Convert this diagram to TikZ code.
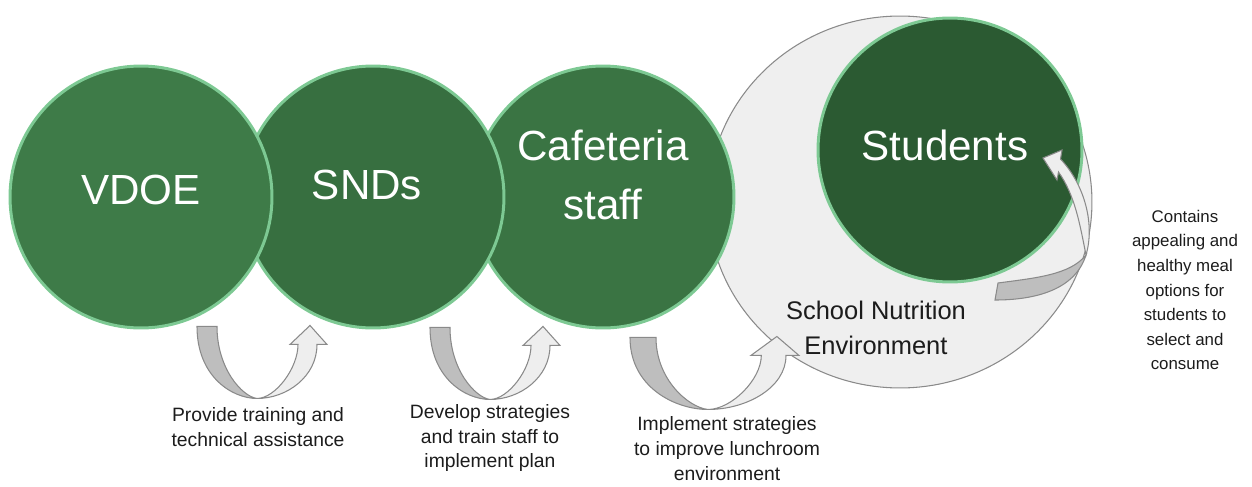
\documentclass[tikz,border=0pt]{standalone}
\usepackage{fontspec}
\setmainfont{Liberation Sans}
\usetikzlibrary{calc,shapes.geometric}
\definecolor{leaf}{HTML}{3E7B48}
\definecolor{leaf2}{HTML}{376F40}
\definecolor{leaf3}{HTML}{3A7443}
\definecolor{pine}{HTML}{2B5A32}
\definecolor{rim}{HTML}{7DC993}
\definecolor{mist}{HTML}{EFEFEF}
\definecolor{edge}{HTML}{8A8A8A}
\definecolor{band}{HTML}{BEBEBE}
\definecolor{band2}{HTML}{EEEEEE}
\definecolor{ink}{HTML}{1C1C1C}

% u-shaped hand-over arrow, origin at the bottom of the bend
\tikzset{
  uturn/.pic={
    \path[draw=edge, fill=band, line width=0.6pt]
      (-60,-72) -- (-40,-72) .. controls (-40,-30) and (-15,-2) .. (0,0)
      .. controls (-25,0) and (-60,-22) .. (-60,-72) -- cycle;
    \path[draw=edge, fill=band2, line width=0.6pt]
      (0,0) .. controls (18,0) and (41,-30) .. (41,-54) -- (33,-54) -- (53,-73)
      -- (70,-54) -- (60,-54) .. controls (60,-22) and (30,0) .. (0,0) -- cycle;
  }
}

\begin{document}
\begin{tikzpicture}[x=0.02cm, y=-0.02cm,
  actor/.style={circle, draw=rim, line width=1.7pt, minimum size=5.24cm, inner sep=0pt},
  heading/.style={text=white, font=\fontsize{24}{34}\selectfont, align=center},
  note/.style={text=ink, font=\fontsize{11}{14.2}\selectfont, align=center},
  sidenote/.style={text=ink, font=\fontsize{9.6}{14}\selectfont, align=center}]
\useasboundingbox (0,0) rectangle (1252,487);
% school environment with the students inside
\node[ellipse, draw=edge, fill=mist, line width=0.6pt, minimum width=7.68cm, minimum height=7.44cm] (env) at (900,202) {};
\node[actor, fill=pine, minimum size=5.28cm] (stu) at (950,150) {};
\node[heading] (stu-t) at ($(stu)+(-5,-5)$) {Students};
\node[text=ink, font=\fontsize{14.5}{20}\selectfont, align=center] (env-t) at (876,328) {School Nutrition\\Environment};
% arrow back into the students circle
\begin{scope}[shift={(stu.center)}]
  \path[draw=edge, fill=band, line width=0.6pt]
    (48,133) .. controls (85,128) and (120,125) .. (136,105)
    .. controls (125,140) and (85,150) .. (45,150) -- cycle;
  \path[draw=edge, fill=band2, line width=0.6pt]
    (136,105) .. controls (145,75) and (135,35) .. (110.5,9) -- (112,0) -- (93,8)
    -- (107,30) -- (108.5,22) .. controls (125,45) and (130,75) .. (136,105) -- cycle;
\end{scope}
% the chain, right to left so each circle sits over its neighbour
\node[actor, fill=leaf3] (caf) at (603,197) {};
\node[actor, fill=leaf2] (snds) at (373,197) {};
\node[actor, fill=leaf] (vdoe) at (141,197) {};
\node[heading] (vdoe-t) at ($(vdoe)+(0,-7)$) {VDOE};
\node[heading] (snds-t) at ($(snds)+(-6,-12)$) {SNDs};
\node[heading] (caf-t) at ($(caf)+(0,-22)$) {Cafeteria\\staff};
% hand-over arrows
\pic (turn1) at ($(vdoe.south)!.5!(snds.south)+(0,69)$) {uturn};
\pic (turn2) at ($(snds.south)!.5!(caf.south)+(2,70)$) {uturn};
\pic[xscale=1.3] (turn3) at ($(caf.south)+(105,80)$) {uturn};
% labels
\node[note] (l1) at (258,427) {Provide training and\\technical assistance};
\node[note] (l2) at (490,438) {Develop strategies\\and train staff to\\implement plan};
\node[note] (l3) at (727,449) {Implement strategies\\to improve lunchroom\\environment};
\node[sidenote] (l4) at (1185,290) {Contains\\appealing and\\healthy meal\\options for\\students to\\select and\\consume};
\end{tikzpicture}
\end{document}
